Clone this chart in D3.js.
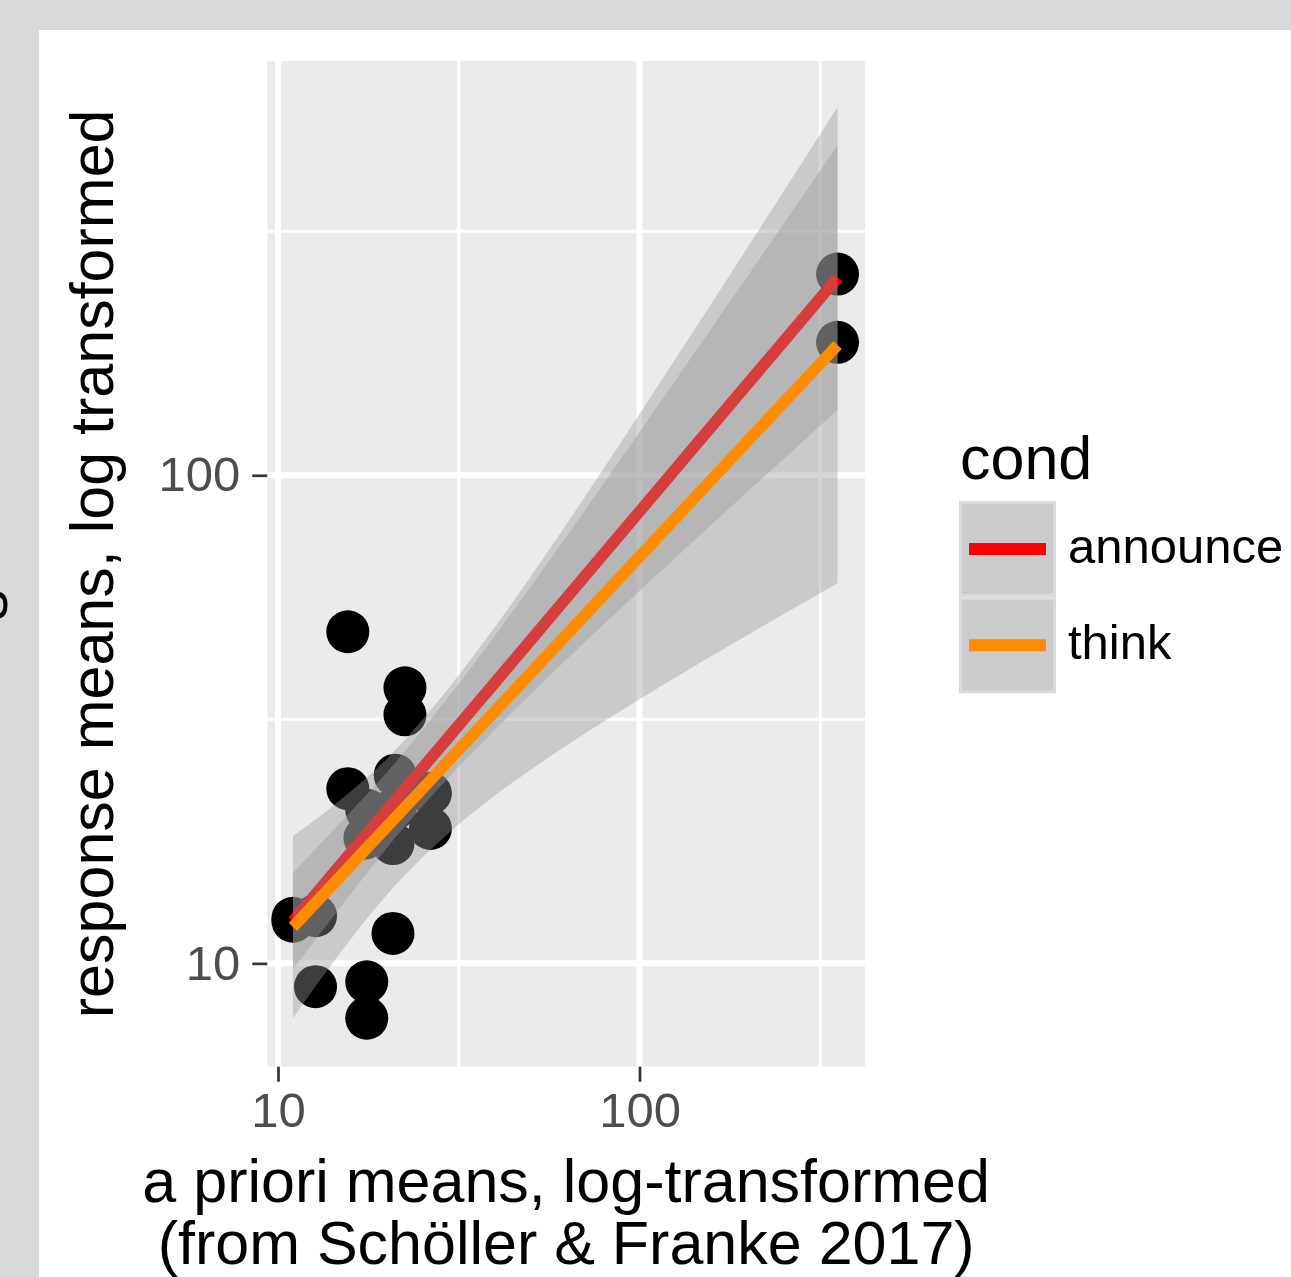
<!DOCTYPE html>
<html lang="en">
<head>
<meta charset="UTF-8">
<title>response vs a priori means</title>
<script src="https://d3js.org/d3.v7.min.js"></script>
<style>
  body { margin: 0; background: #d9d9d9; }
  svg text { font-family: "Liberation Sans", Arial, sans-serif; }
</style>
</head>
<body>
<script>
// ---- data ----
var conds = ["announce", "think"];
var condColors = ["#ff0000", "#ff8c00"];

// observed means (a priori mean, response mean)
var pointX = [353, 353, 22.45, 22.45, 15.6, 15.6, 17.6, 17.6, 12.7, 12.7, 11.0, 11.0, 20.8, 20.8, 26.4, 26.4, 21.1, 21.1, 17.4, 17.6];
var pointY = [258.3, 187.2, 36.7, 32.3, 47.8, 22.8, 9.17, 7.72, 12.52, 8.96, 12.37, 12.2, 11.52, 17.6, 22.3, 18.9, 24.3, 20.8, 18.06, 20.6];

// smoother (lm on log-log) with confidence band
var smoothX = [11, 15, 20, 25, 30, 40, 60, 100, 150, 250, 353];
var announceFit = [12.21, 16.02, 20.6, 25.04, 29.37, 37.77, 53.87, 84.25, 120.2, 187.8, 254.1];
var announceLo = [9.73, 13.12, 17.24, 20.9, 24.26, 30.25, 40.62, 57.96, 76.43, 107.9, 136.2];
var announceHi = [15.31, 19.56, 24.62, 30.0, 35.57, 47.15, 71.46, 122.5, 189.0, 326.8, 474.4];
var thinkFit = [11.87, 15.17, 19.05, 22.73, 26.27, 32.97, 45.43, 68.1, 93.9, 140.7, 184.8];
var thinkLo = [7.72, 10.60, 13.82, 16.43, 18.62, 22.12, 27.33, 34.76, 41.64, 51.92, 60.12];
var thinkHi = [18.23, 21.72, 26.24, 31.45, 37.06, 49.13, 75.55, 133.5, 211.8, 380.8, 568.0];

var majorTicks = [10, 100];
var minorTicks = [31.62, 316.2];
var tickLabels = ["10", "100"];

// ---- layout ----
var W = 1291, H = 1277;
var panel = { left: 267.3, top: 61, right: 865, bottom: 1066.7 };

var svg = d3.select("body").append("svg")
    .attr("width", W)
    .attr("height", H);

svg.append("rect").attr("width", W).attr("height", H).attr("fill", "#d9d9d9");
svg.append("rect").attr("x", 39).attr("y", 30).attr("width", W - 39).attr("height", H - 30).attr("fill", "#ffffff");

// clipped letter from a neighbouring label
svg.append("text")
    .attr("transform", "translate(7,605) rotate(-90)")
    .attr("text-anchor", "middle")
    .attr("font-size", "61px")
    .attr("fill", "#000")
    .text("s");

var x = d3.scaleLog().domain([9.342, 420.5]).range([panel.left, panel.right]);
var y = d3.scaleLog().domain([6.142, 705.9]).range([panel.bottom, panel.top]);

svg.append("rect")
    .attr("x", panel.left).attr("y", panel.top)
    .attr("width", panel.right - panel.left)
    .attr("height", panel.bottom - panel.top)
    .attr("fill", "#ebebeb");

var grid = svg.append("g");
grid.selectAll(".vminor").data(minorTicks).enter().append("line")
    .attr("x1", function (d) { return x(d); }).attr("x2", function (d) { return x(d); })
    .attr("y1", panel.top).attr("y2", panel.bottom)
    .attr("stroke", "#fff").attr("stroke-width", 3);
grid.selectAll(".hminor").data(minorTicks).enter().append("line")
    .attr("y1", function (d) { return y(d); }).attr("y2", function (d) { return y(d); })
    .attr("x1", panel.left).attr("x2", panel.right)
    .attr("stroke", "#fff").attr("stroke-width", 3);
grid.selectAll(".vmajor").data(majorTicks).enter().append("line")
    .attr("x1", function (d) { return x(d); }).attr("x2", function (d) { return x(d); })
    .attr("y1", panel.top).attr("y2", panel.bottom)
    .attr("stroke", "#fff").attr("stroke-width", 6);
grid.selectAll(".hmajor").data(majorTicks).enter().append("line")
    .attr("y1", function (d) { return y(d); }).attr("y2", function (d) { return y(d); })
    .attr("x1", panel.left).attr("x2", panel.right)
    .attr("stroke", "#fff").attr("stroke-width", 6);

// points
svg.append("g").selectAll("circle")
    .data(pointX)
    .enter()
    .append("circle")
    .attr("cx", function (d) { return x(d); })
    .attr("cy", function (d, i) { return y(pointY[i]); })
    .attr("r", 21.5)
    .attr("fill", "#000");

// smoothers: ribbon then line, per group
var fits = [announceFit, thinkFit];
var los = [announceLo, thinkLo];
var his = [announceHi, thinkHi];

conds.forEach(function (c, k) {
    var area = d3.area()
        .x(function (d) { return x(d); })
        .y0(function (d, i) { return y(los[k][i]); })
        .y1(function (d, i) { return y(his[k][i]); })
        .curve(d3.curveMonotoneX);
    var line = d3.line()
        .x(function (d) { return x(d); })
        .y(function (d, i) { return y(fits[k][i]); });
    svg.append("path")
        .datum(smoothX)
        .attr("d", area)
        .attr("fill", "#999999")
        .attr("fill-opacity", 0.4);
    svg.append("path")
        .datum(smoothX)
        .attr("d", line)
        .attr("fill", "none")
        .attr("stroke", condColors[k])
        .attr("stroke-width", 11.5)
        .attr("stroke-linecap", "butt");
});

// axes
var yAxis = svg.append("g")
    .attr("transform", "translate(" + panel.left + ",0)")
    .call(d3.axisLeft(y).tickValues(majorTicks).tickFormat(function (d, i) { return tickLabels[i]; })
        .tickSize(15).tickPadding(12));
var xAxis = svg.append("g")
    .attr("transform", "translate(0," + panel.bottom + ")")
    .call(d3.axisBottom(x).tickValues(majorTicks).tickFormat(function (d, i) { return tickLabels[i]; })
        .tickSize(15).tickPadding(11));

[xAxis, yAxis].forEach(function (a) {
    a.select(".domain").remove();
    a.selectAll(".tick line").attr("stroke", "#333333").attr("stroke-width", 2.7);
    a.selectAll(".tick text")
        .attr("fill", "#4d4d4d")
        .attr("font-size", "49px")
        .attr("font-family", "Liberation Sans, Arial, sans-serif");
});

// axis titles
var cx = (panel.left + panel.right) / 2;
svg.append("text")
    .attr("x", cx).attr("y", 1202)
    .attr("text-anchor", "middle")
    .attr("font-size", "61px")
    .text("a priori means, log-transformed");
svg.append("text")
    .attr("x", cx).attr("y", 1264)
    .attr("text-anchor", "middle")
    .attr("font-size", "61px")
    .text("(from Schöller & Franke 2017)");

svg.append("text")
    .attr("transform", "translate(113," + ((panel.top + panel.bottom) / 2) + ") rotate(-90)")
    .attr("text-anchor", "middle")
    .attr("font-size", "61px")
    .text("response means, log transformed");

// legend
var legend = svg.append("g");
legend.append("text")
    .attr("x", 960).attr("y", 479)
    .attr("font-size", "61px")
    .text("cond");

var keyTop = [501, 597.3];
conds.forEach(function (c, k) {
    var g = legend.append("g").attr("transform", "translate(959," + keyTop[k] + ")");
    g.append("rect").attr("width", 97).attr("height", 96).attr("fill", "#dadada");
    g.append("rect").attr("x", 3).attr("y", 3).attr("width", 91).attr("height", 90).attr("fill", "#cccccc");
    g.append("line")
        .attr("x1", 10).attr("x2", 87)
        .attr("y1", 48).attr("y2", 48)
        .attr("stroke", condColors[k])
        .attr("stroke-width", 12);
    legend.append("text")
        .attr("x", 1068).attr("y", keyTop[k] + 62)
        .attr("font-size", "49px")
        .text(c);
});
</script>
</body>
</html>
